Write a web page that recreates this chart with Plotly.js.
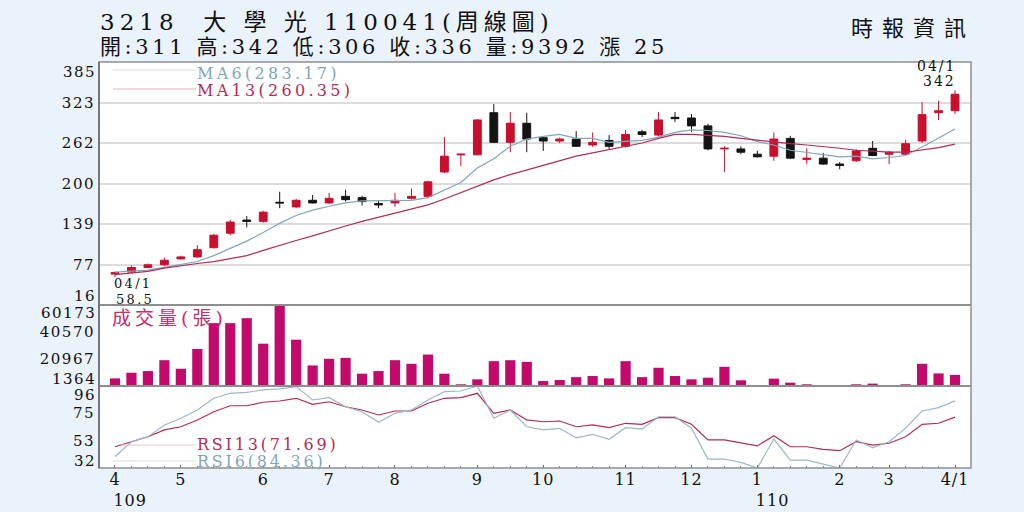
<!DOCTYPE html>
<html><head><meta charset="utf-8">
<script src="https://cdn.plot.ly/plotly-3.0.1.min.js"></script>
<style>html,body{margin:0;padding:0;background:#eaf2fb;} #chart{width:1024px;height:512px;}</style>
</head><body><div id="chart"></div>
<script>
// ---- data ----
const weeks = [0,1,2,3,4,5,6,7,8,9,10,11,12,13,14,15,16,17,18,19,20,21,22,23,24,25,26,27,28,29,30,31,32,33,34,35,36,37,38,39,40,41,42,43,44,45,46,47,48,49,50,51];
const openP  = [63,66,73,77,86,89,103,125,145,143,172,165,175,171,181,179,170,171,178,181,218,244,244,308,263,292,270,265,268,259,266,257,279,274,301,300,288,253,253,245,242,269,237,239,230,235,254,245,245,265,308,311];
const highP  = [67,76,79,88,91,107,124,145,151,159,188,177,183,186,191,182,174,186,193,205,271,246,298,321,309,308,271,270,280,278,274,282,282,309,309,306,291,257,257,250,278,273,254,247,233,253,265,250,267,324,326,342];
const lowP   = [58.5,64,72,75,85,88,102,122,134,141,163,163,170,169,173,167,163,165,176,178,216,227,244,262,248,248,250,262,256,256,253,255,271,272,294,279,251,218,245,240,235,238,230,229,222,233,242,230,244,262,297,306];
const closeP = [65,73,77,84,89,100,122,142,143,157,171,175,171,178,176,173,168,175,181,203,242,245,297,263,292,268,265,268,257,263,257,275,275,297,299,288,253,254,248,241,268,239,239,230,228,250,243,248,261,305,311,336];
const ma6  = [66,67,69,73,77,82,91,102,113,126,140,152,160,166,171,174,174,174,175,179,190,202,224,238,257,268,272,275,269,269,263,264,266,271,278,282,281,278,273,264,259,251,248,244,241,242,238,240,243,256,270,283.17];
const ma13 = [62,64,67,72,76,79,82,86,91,99,107,114,121,129,136,143,149,156,162,168,177,187,197,206,214,221,228,236,242,247,252,256,262,269,275,275,274,272,269,266,264,261,259,257,254,251,249,248,248,251,255,260.35];
const volume = [6900,11000,12200,20100,13900,28300,47000,47000,50600,32100,60173,35000,16300,21100,21800,10300,12200,20100,17500,24200,10300,2600,6200,19400,20100,18900,4950,5700,7800,8600,6900,19400,7800,14600,8600,6200,7400,15300,5500,1900,6700,3800,2600,2100,1364,2600,3100,1400,2600,17500,10500,9392];
const rsi13 = [48.6,52.5,56.4,61.7,64.2,69.5,75.9,80.6,80.6,83.3,84.3,86.4,81.7,83.7,79.8,77.3,73.4,76.5,76.5,82.5,86.4,86.9,90.3,74.7,77.3,69.5,68.1,68.7,64.2,65.6,63.5,66.9,66.1,71.3,71.3,66.1,53.9,53.9,51.3,49.2,57.2,48.6,48.6,46.6,45.5,52.5,49.9,51.3,56.4,66.1,66.9,71.69];
const rsi6  = [40.8,52.5,56.4,65.6,70.8,77.3,86.4,90.3,91.1,92.9,93.7,95.5,85.1,86.9,79.8,75.9,67.7,74.7,77.3,85.1,91.6,92.1,96,70.8,77.3,64.2,61.7,63.0,55.6,58.3,54.4,63.5,62.4,72.0,72.0,63.0,39.0,39.0,36.4,32,54.6,38.2,38.2,34.9,32,53.9,47.8,52.5,63.0,76.5,79.1,84.36];
const tickPos  = [0,4,9,13,17,22,26,31,35,39,44,47,51];
const tickText = ['4<br>\u00a0\u00a0\u00a0\u00a0\u00a0109','5','6','7','8','9','10','11','12','1<br>\u00a0\u00a0\u00a0\u00a0\u00a0110','2','3','4/1'];
const priceTicks = [77,139,200,262,323];
const priceRange = [16,385];
const volTicks = [20967,40570];
const volRange = [1364,60173];
const rsiTicks = [53,75];
const rsiRange = [32,96];
const header1 = '3218\u00a0\u00a0大\u00a0學\u00a0光 110041(周線圖)';
const header2 = '開:311 高:342 低:306 收:336 量:9392 漲 25';
const source = '時報資訊';

// ---- styling ----
const SERIF = '"DejaVu Serif", "Noto Sans CJK TC", serif';
const RED = '#c80f2e', BLACK = '#141414', VOLC = '#c20a6c';
const MA6C = '#7fa7bb', MA13C = '#b42a5c';
const sp = (t, s) => '<span style="letter-spacing:' + s + 'px">' + t + '</span>';
const X = x => (x - 99) / 872;     // pixel -> paper
const Y = y => (468 - y) / 406;

const traces = [
  {type:'candlestick', x:weeks, open:openP, high:highP, low:lowP, close:closeP,
   increasing:{line:{color:RED,width:1}, fillcolor:RED},
   decreasing:{line:{color:BLACK,width:1}, fillcolor:BLACK},
   whiskerwidth:0, hoverinfo:'skip', xaxis:'x', yaxis:'y'},
  {type:'scatter', mode:'lines', x:weeks, y:ma6, line:{color:MA6C,width:1.2}, xaxis:'x', yaxis:'y', hoverinfo:'skip'},
  {type:'scatter', mode:'lines', x:weeks, y:ma13, line:{color:MA13C,width:1.2}, xaxis:'x', yaxis:'y', hoverinfo:'skip'},
  {type:'bar', x:weeks, y:volume, marker:{color:VOLC}, width:0.62, xaxis:'x', yaxis:'y2', hoverinfo:'skip'},
  {type:'scatter', mode:'lines', x:weeks, y:rsi13, line:{color:MA13C,width:1.2}, xaxis:'x', yaxis:'y3', hoverinfo:'skip'},
  {type:'scatter', mode:'lines', x:weeks, y:rsi6, line:{color:'#9cb8c6',width:1.2}, xaxis:'x', yaxis:'y3', hoverinfo:'skip'}
];

const yTickFont = {family:SERIF, size:15, color:'#111'};
const axisCommon = {showline:false, zeroline:false, ticks:'', fixedrange:true, tickfont:yTickFont, ticklabelstandoff:3};

function ann(text, x, y, anchor, color, size, opts) {
  return Object.assign({text:text, xref:'paper', yref:'paper', x:X(x), y:Y(y), xanchor:anchor, yanchor:'middle',
    showarrow:false, borderpad:0, font:{family:SERIF, size:size, color:color}}, opts || {});
}

const annotations = [
  ann(sp(header1,5), 99, 22, 'left', '#111', 23),
  ann(sp(header2,3.6), 99, 47, 'left', '#111', 21),
  ann(sp(source,9), 976, 28, 'right', '#111', 22),
  ann(sp('MA6(283.17)',3.3), 196, 73, 'left', MA6C, 16),
  ann(sp('MA13(260.35)',3.3), 196, 90, 'left', MA13C, 16),
  ann(sp('04/1',2.3), 113, 283, 'left', '#111', 13),
  ann(sp('58.5',2.3), 115, 299, 'left', '#111', 13),
  ann(sp('04/1',2), 957, 66, 'right', '#111', 14),
  ann(sp('342',2), 957, 81, 'right', '#111', 14),
  ann(sp('成交量(張)',4), 111, 318, 'left', '#c2306e', 19),
  ann(sp('RSI13(71.69)',2.8), 196, 444, 'left', MA13C, 16),
  ann(sp('RSI6(84.36)',2.8), 196, 461, 'left', MA6C, 16),
  // end-of-axis labels drawn inside the panel edge, as in the reference
  ann(sp('385',1.5), 97, 72, 'right', '#111', 15),
  ann(sp('16',1.5), 97, 296, 'right', '#111', 15),
  ann(sp('60173',1.5), 97, 313, 'right', '#111', 15),
  ann(sp('1364',1.5), 97, 379, 'right', '#111', 15),
  ann(sp('96',1.5), 97, 395, 'right', '#111', 15),
  ann(sp('32',1.5), 97, 461, 'right', '#111', 15)
];

const line = (x0,y0,x1,y1,color,w) => ({type:'line', xref:'paper', yref:'paper', x0:X(x0), y0:Y(y0), x1:X(x1), y1:Y(y1), line:{color:color, width:w}});
const shapes = [
  {type:'rect', xref:'paper', yref:'paper', x0:0, y0:0, x1:1, y1:1, line:{color:'#8e8e8e', width:1.5}},
  line(99,305,971,305,'#8e8e8e',2),
  line(99,386,971,386,'#8e8e8e',2),
  line(99,62,99,468,'#777',2),
  line(113,70,196,70,'#dddddd',1),
  line(113,89,196,89,'#ecaabb',1),
  line(121,445,196,445,'#eec0cc',1),
  line(113,461,196,461,'#dddddd',1)
];

const layout = {
  width:1024, height:512,
  margin:{l:99, r:53, t:62, b:44},
  paper_bgcolor:'#eaf2fb', plot_bgcolor:'#ffffff',
  showlegend:false, hovermode:false, boxgap:0.32, bargap:0.38,
  xaxis:{anchor:'y3', range:[-0.97,51.97], tickmode:'array', tickvals:tickPos,
    ticktext:tickText.map(t => sp(t,1)), ticks:'inside', ticklen:3, tickcolor:'#666',
    showgrid:false, zeroline:false, showline:false, fixedrange:true,
    rangeslider:{visible:false}, tickfont:{family:SERIF, size:16, color:'#111'},
    minor:{tickvals:weeks, ticks:'inside', ticklen:2, tickcolor:'#888', showgrid:false}},
  yaxis:Object.assign({}, axisCommon, {domain:[Y(305),1], range:priceRange, tickmode:'array',
    tickvals:priceTicks, ticktext:priceTicks.map(v => sp(String(v),1.5)), showgrid:true, gridcolor:'#dcdcdc', gridwidth:1.5}),
  yaxis2:Object.assign({}, axisCommon, {domain:[Y(386),Y(305)], range:volRange, tickmode:'array',
    tickvals:volTicks, ticktext:volTicks.map(v => sp(String(v),1.5)), showgrid:false}),
  yaxis3:Object.assign({}, axisCommon, {domain:[0,Y(386)], range:rsiRange, tickmode:'array',
    tickvals:rsiTicks, ticktext:rsiTicks.map(v => sp(String(v),1.5)), showgrid:false}),
  annotations:annotations,
  shapes:shapes
};

Plotly.newPlot('chart', traces, layout, {staticPlot:true, displayModeBar:false});
</script>
</body></html>
